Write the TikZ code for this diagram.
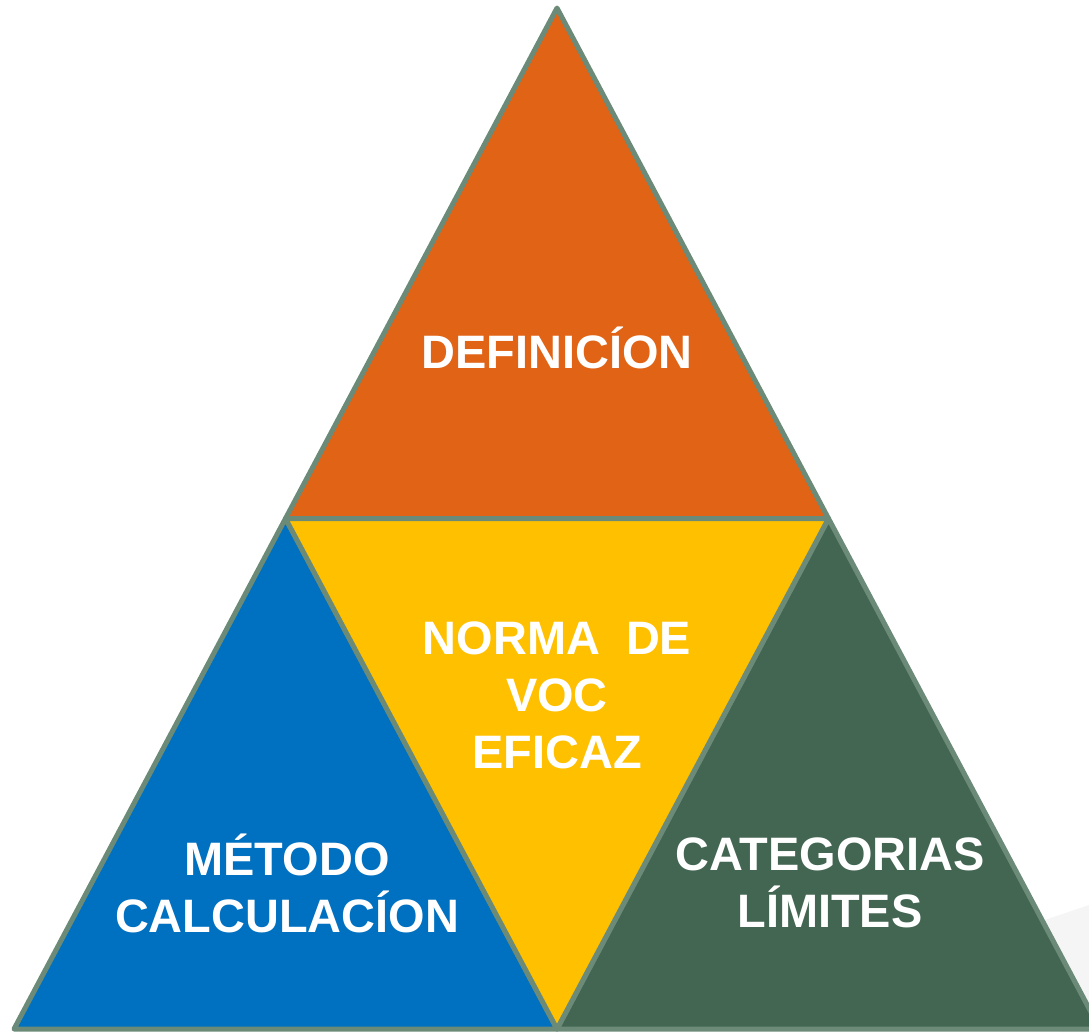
\documentclass[tikz,border=0pt]{standalone}
\usepackage{fontspec}
\setmainfont{Liberation Sans}
\usetikzlibrary{calc}
\definecolor{rim}{HTML}{6B8A78}
\definecolor{defcol}{HTML}{E06316}
\definecolor{normcol}{HTML}{FFC000}
\definecolor{metcol}{HTML}{0070C0}
\definecolor{catcol}{HTML}{436652}
\tikzset{
  part/.style={draw=rim,line width=0.1cm,line join=round},
  label/.style={text=white,align=center,font=\bfseries\fontsize{26.7}{32.4}\selectfont}
}

\begin{document}
\begin{tikzpicture}[x=0.02cm,y=-0.02cm]
    \useasboundingbox (0,0) rectangle (1089,1032);
    % faint shadow at the lower right
    \fill[black!4] (1000,935) -- (1089,905) -- (1089,1032) -- (1060,1032) -- cycle;
    \coordinate (top) at (557,8);
    \coordinate (bl) at (14,1029);
    \coordinate (br) at (1100,1029);
    \coordinate (ml) at ($(top)!0.5!(bl)$);
    \coordinate (mr) at ($(top)!0.5!(br)$);
    \coordinate (mb) at ($(bl)!0.5!(br)$);
    \draw[part,fill=defcol] (top) -- (ml) -- (mr) -- cycle;
    \draw[part,fill=metcol] (ml) -- (bl) -- (mb) -- cycle;
    \draw[part,fill=catcol] (mr) -- (mb) -- (br) -- cycle;
    \draw[part,fill=normcol] (ml) -- (mr) -- (mb) -- cycle;
    \node[label] (def) at (557,348) {DEFINICÍON};
    \node[label] (norma) at (557,695) {NORMA\ \ DE\\VOC\\EFICAZ};
    \node[label] (metodo) at (287,883) {MÉTODO\\CALCULACÍON};
    \node[label] (categ) at (830,883) {CATEGORIAS\\LÍMITES};
\end{tikzpicture}
\end{document}
